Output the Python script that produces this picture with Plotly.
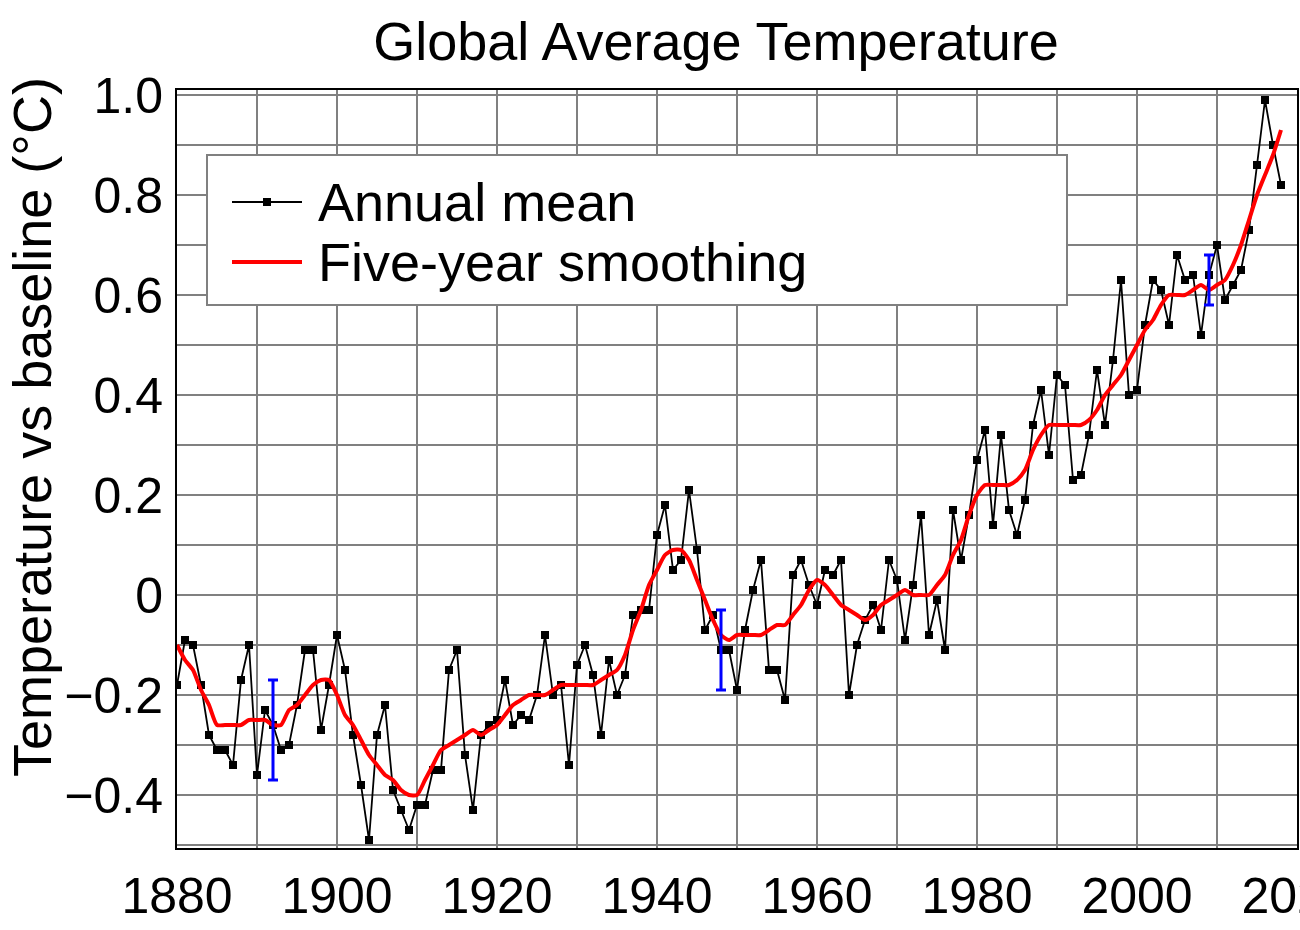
import plotly.graph_objects as go

years = list(range(1880, 2019))
annual_mean = [
    -0.18, -0.09, -0.10, -0.18, -0.28, -0.31, -0.31, -0.34, -0.17, -0.10,
    -0.36, -0.23, -0.26, -0.31, -0.30, -0.22, -0.11, -0.11, -0.27, -0.18,
    -0.08, -0.15, -0.28, -0.38, -0.49, -0.28, -0.22, -0.39, -0.43, -0.47,
    -0.42, -0.42, -0.35, -0.35, -0.15, -0.11, -0.32, -0.43, -0.28, -0.26,
    -0.25, -0.17, -0.26, -0.24, -0.25, -0.20, -0.08, -0.20, -0.18, -0.34,
    -0.14, -0.10, -0.16, -0.28, -0.13, -0.20, -0.16, -0.04, -0.03, -0.03,
    0.12, 0.18, 0.05, 0.07, 0.21, 0.09, -0.07, -0.04, -0.11, -0.11,
    -0.19, -0.07, 0.01, 0.07, -0.15, -0.15, -0.21, 0.04, 0.07, 0.02,
    -0.02, 0.05, 0.04, 0.07, -0.20, -0.10, -0.05, -0.02, -0.07, 0.07,
    0.03, -0.09, 0.02, 0.16, -0.08, -0.01, -0.11, 0.17, 0.07, 0.16,
    0.27, 0.33, 0.14, 0.32, 0.17, 0.12, 0.19, 0.34, 0.41, 0.28,
    0.44, 0.42, 0.23, 0.24, 0.32, 0.45, 0.34, 0.47, 0.63, 0.40,
    0.41, 0.54, 0.63, 0.61, 0.54, 0.68, 0.63, 0.64, 0.52, 0.64,
    0.70, 0.59, 0.62, 0.65, 0.73, 0.86, 0.99, 0.90, 0.82,
]
five_year = [
    -0.10, -0.13, -0.15, -0.19, -0.22, -0.26, -0.26, -0.26, -0.26, -0.25,
    -0.25, -0.25, -0.26, -0.26, -0.23, -0.22, -0.20, -0.18, -0.17, -0.17,
    -0.20, -0.24, -0.26, -0.29, -0.32, -0.34, -0.36, -0.37, -0.39, -0.40,
    -0.40, -0.37, -0.34, -0.31, -0.30, -0.29, -0.28, -0.27, -0.28, -0.27,
    -0.26, -0.24, -0.22, -0.21, -0.20, -0.20, -0.20, -0.19, -0.18, -0.18,
    -0.18, -0.18, -0.18, -0.17, -0.16, -0.15, -0.12, -0.07, -0.03, 0.02,
    0.05, 0.08, 0.09, 0.09, 0.07, 0.03, -0.01, -0.05, -0.08, -0.09,
    -0.08, -0.08, -0.08, -0.08, -0.07, -0.06, -0.06, -0.04, -0.02, 0.01,
    0.03, 0.02, 0.00, -0.02, -0.03, -0.04, -0.05, -0.04, -0.02, -0.01,
    0.00, 0.01, 0.00, 0.00, 0.00, 0.02, 0.04, 0.08, 0.11, 0.16,
    0.20, 0.22, 0.22, 0.22, 0.22, 0.23, 0.25, 0.29, 0.32, 0.34,
    0.34, 0.34, 0.34, 0.34, 0.35, 0.37, 0.40, 0.42, 0.44, 0.47,
    0.50, 0.53, 0.55, 0.58, 0.60, 0.60, 0.60, 0.61, 0.62, 0.61,
    0.62, 0.63, 0.66, 0.70, 0.75, 0.80, 0.84, 0.88, 0.93,
]
err_years = [1892, 1948, 2009]
err_center = [-0.27, -0.11, 0.63]
err_half = [0.10, 0.08, 0.05]

x_grid = list(range(1880, 2021, 10))
x_text = [str(v) if v % 20 == 0 else "" for v in x_grid]
y_grid = [round(-0.5 + 0.1 * i, 1) for i in range(16)]
y_labels = {1.0: "1.0", 0.8: "0.8", 0.6: "0.6", 0.4: "0.4", 0.2: "0.2",
            0.0: "0", -0.2: "\u22120.2", -0.4: "\u22120.4"}
y_text = [y_labels.get(v, "") for v in y_grid]

FONT = "Liberation Sans, Arial, sans-serif"

fig = go.Figure()
fig.add_trace(go.Scatter(
    x=years, y=annual_mean, mode="lines+markers", name="Annual mean",
    line=dict(color="black", width=1.8),
    marker=dict(symbol="square", size=8, color="black"),
))
fig.add_trace(go.Scatter(
    x=years, y=five_year, mode="lines", name="Five-year smoothing",
    line=dict(color="#ff0000", width=4, shape="spline", smoothing=0.6),
))
fig.add_trace(go.Scatter(
    x=err_years, y=err_center, mode="markers", showlegend=False,
    marker=dict(size=1, color="rgba(0,0,0,0)"),
    error_y=dict(type="data", array=err_half, color="#0000ff", thickness=3, width=5),
))

# manual legend (paper coordinates)
pl, pr, pt, pb = 177, 1297, 90, 848
def px(x):
    return (x - pl) / (pr - pl)
def py(y):
    return (pb - y) / (pb - pt)

shapes = [
    dict(type="rect", xref="paper", yref="paper", x0=px(207), x1=px(1067),
         y0=py(305), y1=py(155), line=dict(color="#808080", width=2),
         fillcolor="white", layer="above"),
    dict(type="line", xref="paper", yref="paper", x0=px(232), x1=px(302),
         y0=py(202), y1=py(202), line=dict(color="black", width=1.8), layer="above"),
    dict(type="rect", xref="paper", yref="paper", x0=px(263), x1=px(271),
         y0=py(206), y1=py(198), line=dict(width=0), fillcolor="black", layer="above"),
    dict(type="line", xref="paper", yref="paper", x0=px(232), x1=px(302),
         y0=py(262), y1=py(262), line=dict(color="#ff0000", width=4), layer="above"),
]
annotations = [
    dict(text="Annual mean", xref="paper", yref="paper", x=px(316), y=py(202),
         xanchor="left", yanchor="middle", showarrow=False,
         font=dict(size=54, color="black", family=FONT)),
    dict(text="Five-year smoothing", xref="paper", yref="paper", x=px(316), y=py(262),
         xanchor="left", yanchor="middle", showarrow=False,
         font=dict(size=54, color="black", family=FONT)),
    dict(text="Temperature vs baseline (\u00b0C)", xref="paper", yref="paper",
         x=px(32), y=py(427), xanchor="center", yanchor="middle", textangle=-90,
         showarrow=False, font=dict(size=54, color="black", family=FONT)),
]

fig.update_layout(
    width=1300, height=930,
    margin=dict(l=pl, r=1300 - pr, t=pt, b=930 - pb, autoexpand=False),
    paper_bgcolor="white", plot_bgcolor="white",
    showlegend=False,
    font=dict(family=FONT, color="black"),
    title=dict(text="Global Average Temperature", x=716 / 1300, xanchor="center",
               y=1 - 41 / 930, yanchor="middle", font=dict(size=54, family=FONT)),
    shapes=shapes, annotations=annotations,
)
fig.update_xaxes(
    range=[1880, 2020], tickmode="array", tickvals=x_grid, ticktext=x_text,
    showgrid=True, gridcolor="#808080", gridwidth=2,
    showline=True, linecolor="black", linewidth=2, mirror=True,
    ticks="", tickfont=dict(size=50, family=FONT), ticklabelstandoff=3,
    ticklabeloverflow="allow", automargin=False,
    zeroline=False,
)
fig.update_yaxes(
    range=[-0.506, 1.01], tickmode="array", tickvals=y_grid, ticktext=y_text,
    showgrid=True, gridcolor="#808080", gridwidth=2,
    showline=True, linecolor="black", linewidth=2, mirror=True,
    ticks="", tickfont=dict(size=50, family=FONT), ticklabelstandoff=2,
    automargin=False,
    zeroline=False,
)

fig.write_html("out.html")
